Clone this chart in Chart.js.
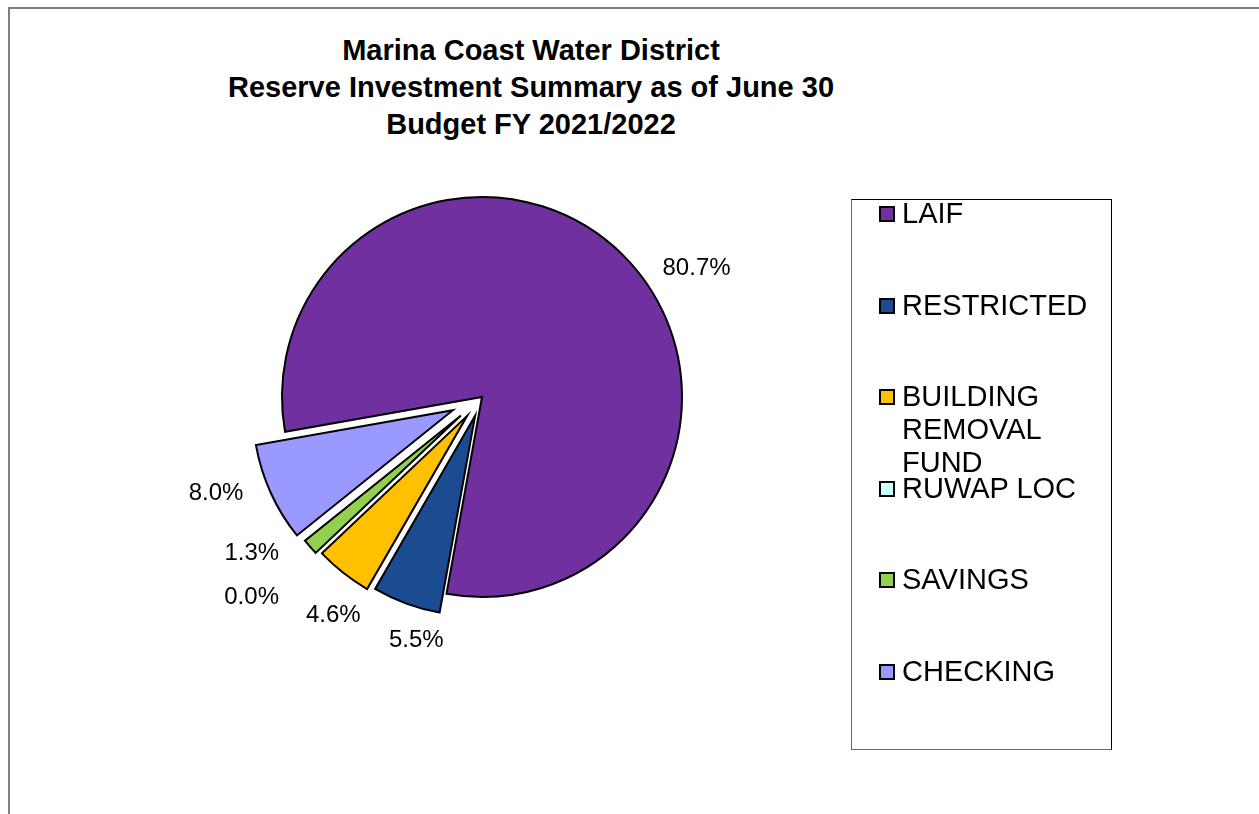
<!DOCTYPE html>
<html>
<head>
<meta charset="utf-8">
<script src="https://cdn.jsdelivr.net/npm/chart.js@4/dist/chart.umd.min.js"></script>
<style>
  body { margin: 0; width: 1259px; height: 814px; overflow: hidden; background: #fff; font-family: "Liberation Sans", Arial, sans-serif; }
  #frame { position: absolute; left: 8px; top: 7px; width: 1300px; height: 900px; border: 2px solid #7f7f7f; box-sizing: border-box; }
  #title { position: absolute; left: 0; top: 32px; width: 1062px; text-align: center; font-weight: bold; font-size: 29px; line-height: 37px; color: #000; }
  #myPie { position: absolute; left: 0; top: 0; }
  #legend { position: absolute; left: 851px; top: 199px; width: 261px; height: 551px; border: 1px solid #000; border-left-color: #666; border-bottom-color: #666; box-sizing: border-box; background: #fff; }
  .item { position: relative; height: 91.5px; }
  .box { position: absolute; left: 27px; top: 6px; width: 16px; height: 16px; border: 2px solid #000; box-sizing: border-box; }
  .txt { position: absolute; left: 50px; top: -3px; width: 200px; font-size: 29px; line-height: 33px; color: #000; }
</style>
</head>
<body>
<div id="frame"></div>
<div id="title"></div>
<canvas id="myPie" width="1259" height="814"></canvas>
<div id="legend"></div>
<script>
const titleLines = ['Marina Coast Water District', 'Reserve Investment Summary as of June 30', 'Budget FY 2021/2022'];
const categories = ['LAIF', 'RESTRICTED', 'BUILDING REMOVAL FUND', 'RUWAP LOC', 'SAVINGS', 'CHECKING'];
const percents = [80.7, 5.5, 4.6, 0.0, 1.3, 8.0];
const colors = ['#7030A0', '#1B4B91', '#FFC000', '#CCFFFF', '#92D050', '#9999FF'];

// how far each slice is pulled out, and where its % label sits
const explode = [0, 20, 24, 26, 28, 32];
const labelShift = [14, -5, -4, 2.5, 7, 4.4];   // degrees
const labelDist = [250, 252, 264, 305, 278, 283];

document.getElementById('title').innerHTML = titleLines.join('<br>');

const legend = document.getElementById('legend');
categories.forEach((name, i) => {
    const row = document.createElement('div');
    row.className = 'item';
    row.innerHTML = '<div class="box" style="background:' + colors[i] + '"></div><div class="txt">' + name + '</div>';
    legend.appendChild(row);
});

const explodePlugin = {
    id: 'explode',
    afterDatasetUpdate(chart, args) {
        const arcs = chart.getDatasetMeta(args.index).data;
        arcs.forEach((arc, i) => {
            const mid = (arc.startAngle + arc.endAngle) / 2;
            arc.x += Math.cos(mid) * explode[i];
            arc.y += Math.sin(mid) * explode[i];
        });
    }
};

const pctLabels = {
    id: 'pctLabels',
    afterDatasetsDraw(chart) {
        const ctx = chart.ctx;
        const area = chart.chartArea;
        const cx = (area.left + area.right) / 2;
        const cy = (area.top + area.bottom) / 2;
        const arcs = chart.getDatasetMeta(0).data;
        ctx.save();
        ctx.font = '24px "Liberation Sans", Arial, sans-serif';
        ctx.fillStyle = '#000';
        ctx.textAlign = 'center';
        ctx.textBaseline = 'middle';
        arcs.forEach((arc, i) => {
            const a = (arc.startAngle + arc.endAngle) / 2 + labelShift[i] * Math.PI / 180;
            ctx.fillText(percents[i].toFixed(1) + '%', cx + Math.cos(a) * labelDist[i], cy + Math.sin(a) * labelDist[i]);
        });
        ctx.restore();
    }
};

const ctx = document.getElementById('myPie').getContext('2d');
new Chart(ctx, {
    type: 'pie',
    data: {
        labels: categories,
        datasets: [{
            data: percents,
            backgroundColor: colors,
            borderColor: '#000',
            borderWidth: 2,
            borderJoinStyle: 'miter'
        }]
    },
    options: {
        responsive: false,
        animation: false,
        events: [],
        rotation: 260,
        radius: 200,
        layout: { padding: { left: 0, right: 295, top: 0, bottom: 20 } },
        plugins: {
            legend: { display: false },
            title: { display: false },
            tooltip: { enabled: false }
        }
    },
    plugins: [explodePlugin, pctLabels]
});
</script>
</body>
</html>
